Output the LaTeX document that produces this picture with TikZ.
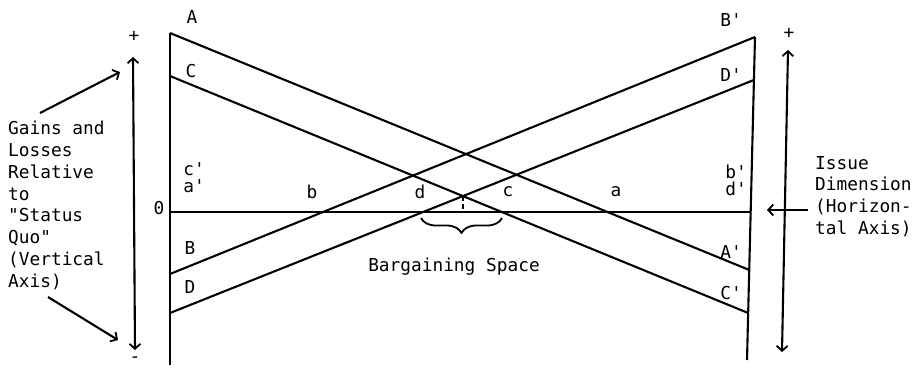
\documentclass[tikz,border=0pt]{standalone}
\usepackage{fontspec}
\setmonofont{DejaVu Sans Mono}
\usetikzlibrary{arrows.meta,decorations.pathreplacing}

\begin{document}
\begin{tikzpicture}[x=1pt, y=-1pt, line join=round,
    every node/.style={font=\ttfamily\fontsize{17.8}{21.8}\selectfont, inner sep=0pt},
    edge/.style={line width=2.1pt},
    barb/.style={-{Straight Barb[length=5pt,width=11pt,line width=1.8pt]}},
    dblbarb/.style={{Straight Barb[length=5pt,width=11pt,line width=1.8pt]}-{Straight Barb[length=5pt,width=11pt,line width=1.8pt]}}]
    \useasboundingbox (0,0) rectangle (918,368);
    % ends of the four lines
    \coordinate (A) at (170,33);
    \coordinate (C) at (170,76);
    \coordinate (B) at (170,274);
    \coordinate (D) at (170,313);
    \coordinate (Bp) at (755,37);
    \coordinate (Dp) at (753.9,80);
    \coordinate (Ap) at (749.3,270);
    \coordinate (Cp) at (748.2,313);
    \coordinate (O) at (170,212);
    \coordinate (Op) at (750.7,212);
    \coordinate (Lend) at (170,365);
    \coordinate (Rend) at (747,360);
    % bargaining space
    \coordinate (X) at (463,196);
    \coordinate (Xo) at (463,212);
    \coordinate (Sd) at (421,218);
    \coordinate (Sc) at (502,218);
    % outer arrows
    \coordinate (Vtop) at (133,57);
    \coordinate (Vbot) at (135,350);
    \coordinate (Htop) at (788,50);
    \coordinate (Hbot) at (782,352);
    \coordinate (g1) at (40,113);
    \coordinate (g2) at (120,72);
    \coordinate (g3) at (48,297);
    \coordinate (g4) at (118,340);
    \coordinate (h1) at (808,210);
    \coordinate (h2) at (767,210);

    \draw[edge] (A) -- (Lend);
    \draw[edge] (Bp) -- (Rend);
    \draw[line width=1.5pt] (O) -- (Op);
    \draw[edge] (A) -- (Ap);
    \draw[edge] (C) -- (Cp);
    \draw[edge] (B) -- (Bp);
    \draw[edge] (D) -- (Dp);
    \draw[line width=2pt, dash pattern=on 5pt off 3pt] (X) -- (Xo);
    \draw[line width=1.8pt, decorate, decoration={brace, mirror, amplitude=15pt}] (Sd) -- (Sc);

    \draw[edge, dblbarb] (Vtop) -- (Vbot);
    \draw[edge, dblbarb] (Htop) -- (Hbot);
    \draw[edge, barb] (g1) -- (g2);
    \draw[edge, barb] (g3) -- (g4);
    \draw[edge, barb] (h1) -- (h2);

    \node (lA) at (192,17) {A};
    \node (lC) at (191,71) {C};
    \node (lcp) at (194,169) {c'};
    \node (lap) at (194,186) {a'};
    \node (l0) at (159,208) {0};
    \node (lB) at (190,248) {B};
    \node (lD) at (190,287) {D};
    \node (lb) at (312,192) {b};
    \node (ld) at (420,192) {d};
    \node (lc) at (508,192) {c};
    \node (la) at (616,192) {a};
    \node (lBp) at (731,20) {B'};
    \node (lDp) at (731,75) {D'};
    \node (lbp) at (736,172) {b'};
    \node (ldp) at (736,189) {d'};
    \node (lAp) at (731,252) {A'};
    \node (lCp) at (731,293) {C'};
    \node (plusL) at (134,36) {+};
    \node (minusL) at (135,360) {-};
    \node (plusR) at (789,33) {+};
    \node (space) at (454,267) {Bargaining Space};
    \node[anchor=north west, align=left] (gains) at (8,121)
        {Gains and\\Losses\\Relative\\to\\"Status\\Quo"\\(Vertical\\Axis)};
    \node[anchor=north west, align=left] (issue) at (815,156)
        {Issue\\Dimension\\(Horizon-\\tal Axis)};
\end{tikzpicture}
\end{document}
